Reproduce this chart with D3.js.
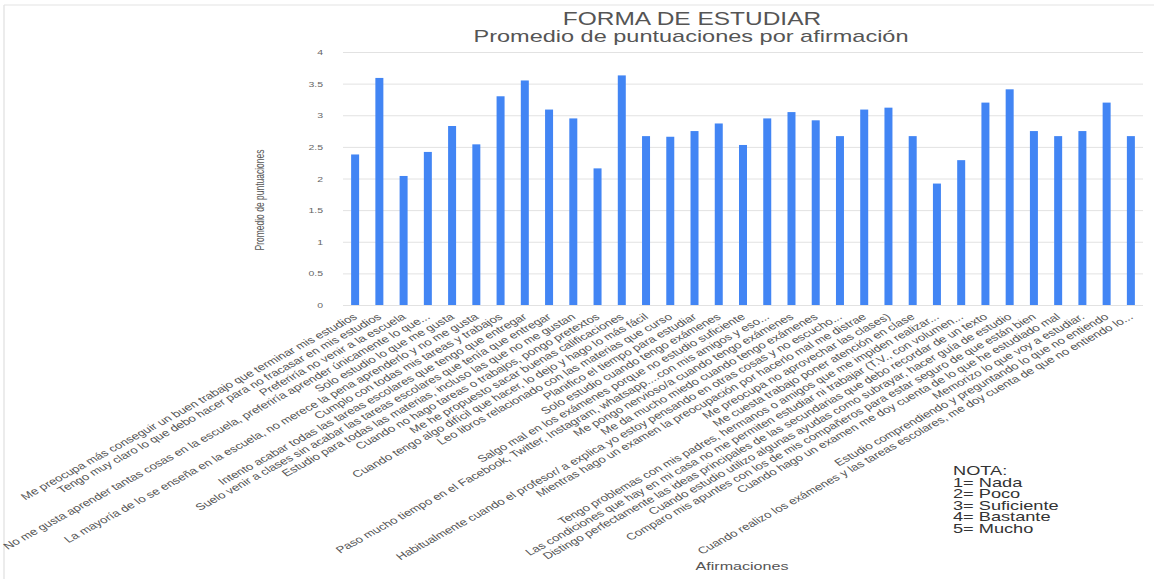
<!DOCTYPE html>
<html>
<head>
<meta charset="utf-8">
<script src="https://cdn.jsdelivr.net/npm/d3@7"></script>
<style>
  body { margin: 0; background: #fff; }
  text { font-family: Arial, "Liberation Sans", sans-serif; }
</style>
</head>
<body>
<div id="chart"></div>
<script>
// Data
const afirmaciones = [
    "Me preocupa más conseguir un buen trabajo que terminar mis estudios",
    "Tengo muy claro lo que debo hacer para no fracasar en mis estudios",
    "Preferiría no venir a la escuela",
    "No me gusta aprender tantas cosas en la escuela, preferiría aprender únicamente lo que...",
    "Solo estudio lo que me gusta",
    "La mayoría de lo se enseña en la escuela, no merece la pena aprenderlo y no me gusta",
    "Cumplo con todas mis tareas y trabajos",
    "Intento acabar todas las tareas escolares que tengo que entregar",
    "Suelo venir a clases sin acabar las tareas escolares que tenía que entregar",
    "Estudio para todas las materias, incluso las que no me gustan",
    "Cuando no hago tareas o trabajos, pongo pretextos",
    "Me he propuesto sacar buenas calificaciones",
    "Cuando tengo algo difícil que hacer, lo dejo y hago lo más fácil",
    "Leo libros relacionado con las materias que curso",
    "Planifico el tiempo para estudiar",
    "Solo estudio cuando tengo exámenes",
    "Salgo mal en los exámenes porque no estudio suficiente",
    "Paso mucho tiempo en el Facebook, Twitter, Instagram, whatsapp....con mis amigos y eso...",
    "Me pongo nervioso/a cuando tengo exámenes",
    "Me da mucho miedo cuando tengo exámenes",
    "Habitualmente cuando el profesor/ a explica yo estoy pensando en otras cosas y no escucho...",
    "Mientras hago un examen la preocupación por hacerlo mal me distrae",
    "Me preocupa no aprovechar las clases)",
    "Me cuesta trabajo poner atención en clase",
    "Tengo problemas con mis padres, hermanos o amigos que me impiden realizar...",
    "Las condiciones que hay en mi casa no me permiten estudiar ni trabajar (T.V., con volumen...",
    "Distingo perfectamente las ideas principales de las secundarias que debo recordar de un texto",
    "Cuando estudio utilizo algunas ayudas como subrayar, hacer guía de estudio",
    "Comparo mis apuntes con los de mis compañeros para estar seguro de que están bien",
    "Cuando hago un examen me doy cuenta de lo que he estudiado mal",
    "Memorizo lo que voy a estudiar.",
    "Estudio comprendiendo y preguntando lo que no entiendo",
    "Cuando realizo los exámenes y las tareas escolares, me doy cuenta de que no entiendo lo..."
];

const promedios = [
    2.38, 3.59, 2.04, 2.42, 2.83, 2.54, 3.30, 3.55, 3.09, 2.95, 2.16,
    3.63, 2.67, 2.66, 2.75, 2.87, 2.53, 2.95, 3.05, 2.92, 2.67, 3.09,
    3.12, 2.67, 1.92, 2.29, 3.20, 3.41, 2.75, 2.67, 2.75, 3.20, 2.67
];

const yTicks = [0, 0.5, 1, 1.5, 2, 2.5, 3, 3.5, 4];

const nota = ["NOTA:", "1= Nada", "2= Poco", "3= Suficiente", "4= Bastante", "5= Mucho"];

// Set up dimensions
const width = 1154;
const height = 579;
const margin = { top: 52, right: 11, bottom: 274, left: 343 };
const innerWidth = width - margin.left - margin.right;
const innerHeight = height - margin.top - margin.bottom;

// the picture is wider than tall, so all text is stretched sideways
const stretch = 1.4;

const svg = d3
    .select("#chart")
    .append("svg")
    .attr("width", width)
    .attr("height", height);

// light frame on the left and top
svg.append("line")
    .attr("x1", 4).attr("x2", 4)
    .attr("y1", 5).attr("y2", height)
    .attr("stroke", "#d9d9d9");
svg.append("line")
    .attr("x1", 4).attr("x2", width)
    .attr("y1", 5).attr("y2", 5)
    .attr("stroke", "#e3e3e3");

const chart = svg
    .append("g")
    .attr("transform", `translate(${margin.left}, ${margin.top})`);

// Scales
const xScale = d3
    .scaleBand()
    .domain(afirmaciones)
    .range([0, innerWidth])
    .paddingInner(0.67)
    .paddingOuter(0.335);

const yScale = d3
    .scaleLinear()
    .domain([0, 4])
    .range([innerHeight, 0]);

// Y axis with gridlines
const yAxisGroup = chart
    .append("g")
    .attr("class", "y-axis")
    .call(d3.axisLeft(yScale).tickValues(yTicks).tickSize(-innerWidth).tickFormat(d3.format("")));

yAxisGroup.select(".domain").remove();
yAxisGroup.selectAll(".tick line").attr("stroke", "#e2e2e2");
yAxisGroup.selectAll(".tick text")
    .attr("x", 0)
    .attr("dy", "0.34em")
    .attr("text-anchor", "end")
    .attr("transform", `translate(-20, 0) scale(${stretch}, 1)`)
    .attr("fill", "#666")
    .style("font-size", "7.5px");

// Bars
chart
    .selectAll(".bar")
    .data(promedios)
    .enter()
    .append("rect")
    .attr("class", "bar")
    .attr("x", (d, i) => xScale(afirmaciones[i]))
    .attr("y", (d) => yScale(d))
    .attr("width", xScale.bandwidth())
    .attr("height", (d) => innerHeight - yScale(d))
    .attr("fill", "#4285f4");

// X axis labels, slanted
const xAxisGroup = chart
    .append("g")
    .attr("class", "x-axis")
    .attr("transform", `translate(0, ${innerHeight})`)
    .call(d3.axisBottom(xScale).tickSize(0));

xAxisGroup.select(".domain").remove();
xAxisGroup.selectAll(".tick text")
    .attr("x", 0)
    .attr("y", 0)
    .attr("dy", 0)
    .attr("text-anchor", "end")
    .attr("transform", `translate(3, 13) scale(${stretch}, 1) rotate(-37.5)`)
    .attr("fill", "#555")
    .style("font-size", "9.5px");

// Titles
svg.append("text")
    .attr("text-anchor", "middle")
    .attr("transform", `translate(692, 25) scale(${stretch}, 1)`)
    .attr("fill", "#555")
    .style("font-size", "17.5px")
    .text("FORMA DE ESTUDIAR");

svg.append("text")
    .attr("text-anchor", "middle")
    .attr("transform", `translate(691, 42) scale(${stretch}, 1)`)
    .attr("fill", "#555")
    .style("font-size", "16.8px")
    .text("Promedio de puntuaciones por afirmación");

// Axis titles
svg.append("text")
    .attr("text-anchor", "middle")
    .attr("transform", `translate(264, 200) scale(${stretch}, 1) rotate(-90)`)
    .attr("fill", "#555")
    .style("font-size", "8.5px")
    .text("Promedio de puntuaciones");

svg.append("text")
    .attr("text-anchor", "middle")
    .attr("transform", `translate(742, 570) scale(${stretch}, 1)`)
    .attr("fill", "#555")
    .style("font-size", "11.5px")
    .text("Afirmaciones");

// Note block
svg.append("g")
    .selectAll("text")
    .data(nota)
    .enter()
    .append("text")
    .attr("transform", (d, i) => `translate(953, ${475 + i * 11.6}) scale(${stretch}, 1)`)
    .attr("fill", "#333")
    .style("font-size", "13px")
    .text((d) => d);
</script>
</body>
</html>
